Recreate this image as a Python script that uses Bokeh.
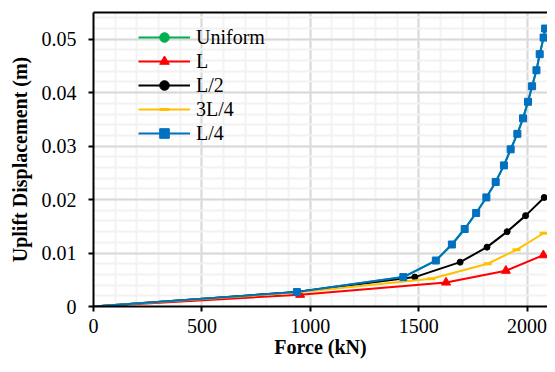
from bokeh.plotting import figure
from bokeh.models import Range1d, FixedTicker, CustomJSTickFormatter, LinearAxis, Legend, LegendItem
from bokeh.embed import file_html
from bokeh.resources import INLINE

# ---- data ----
force_uniform = [0, 938, 1429, 1579, 1653, 1712, 1765, 1812, 1855, 1893, 1924, 1955, 1981, 2004, 2023, 2043, 2058, 2076, 2083]
disp_uniform = [0, 0.0027, 0.0055, 0.0086, 0.0116, 0.0145, 0.0175, 0.0204, 0.0233, 0.0264, 0.0294, 0.0323, 0.0352, 0.0383, 0.0412, 0.0442, 0.0472, 0.0503, 0.0520]

force_L = [0, 953, 1626, 1902, 2075]
disp_L = [0, 0.0022, 0.0045, 0.0067, 0.0096]

force_L2 = [0, 938, 1482, 1691, 1815, 1908, 1993, 2079]
disp_L2 = [0, 0.0027, 0.0055, 0.0083, 0.0111, 0.0140, 0.0170, 0.0204]

force_3L4 = [0, 938, 1558, 1818, 1951, 2076]
disp_3L4 = [0, 0.0026, 0.0052, 0.0080, 0.0106, 0.0137]

force_L4 = [0, 938, 1429, 1579, 1653, 1712, 1765, 1812, 1855, 1893, 1924, 1955, 1981, 2004, 2023, 2043, 2058, 2076, 2083]
disp_L4 = [0, 0.0027, 0.0055, 0.0086, 0.0116, 0.0145, 0.0175, 0.0204, 0.0233, 0.0264, 0.0294, 0.0323, 0.0352, 0.0383, 0.0412, 0.0442, 0.0472, 0.0503, 0.0520]

x_ticks = [0, 500, 1000, 1500, 2000]
x_minor = [v for v in range(0, 2100, 100)]
y_ticks = [0, 0.01, 0.02, 0.03, 0.04, 0.05]
y_minor = [0, 0.002, 0.004, 0.006, 0.008, 0.01, 0.012, 0.014, 0.016, 0.018, 0.02, 0.022, 0.024, 0.026, 0.028,
           0.03, 0.032, 0.034, 0.036, 0.038, 0.04, 0.042, 0.044, 0.046, 0.048, 0.05, 0.052, 0.054]

FONT = "Liberation Serif"

p = figure(width=547, height=364, output_backend="svg", toolbar_location=None,
           x_range=Range1d(0, 2094), y_range=Range1d(0, 0.055),
           min_border_left=93, min_border_right=0, min_border_top=12, min_border_bottom=58)
p.outline_line_color = None
p.background_fill_color = "white"

xt = FixedTicker(ticks=x_ticks, minor_ticks=x_minor)
yt = FixedTicker(ticks=y_ticks, minor_ticks=y_minor)
p.xaxis.ticker = xt
p.yaxis.ticker = yt
p.yaxis.formatter = CustomJSTickFormatter(code="return tick == 0 ? '0' : tick.toFixed(2);")

for ax in (p.xaxis[0], p.yaxis[0]):
    ax.axis_line_width = 2
    ax.axis_line_color = "black"
    ax.major_tick_in = 0
    ax.major_tick_out = 5
    ax.major_tick_line_width = 2
    ax.major_tick_line_color = "black"
    ax.minor_tick_line_color = None
    ax.major_label_text_font = FONT
    ax.major_label_text_font_size = "20px"
    ax.major_label_text_color = "black"
    ax.axis_label_text_font = FONT
    ax.axis_label_text_font_size = "20px"
    ax.axis_label_text_font_style = "bold"
    ax.axis_label_text_color = "black"

p.xaxis.axis_label = "Force (kN)"
p.yaxis.axis_label = "Uplift Displacement (m)"
p.xaxis.major_label_standoff = 7
p.yaxis.major_label_standoff = 12
p.xaxis.axis_label_standoff = 0
p.yaxis.axis_label_standoff = 8

top = LinearAxis(ticker=FixedTicker(ticks=[]), axis_line_width=2, axis_line_color="black",
                 major_tick_line_color=None, minor_tick_line_color=None,
                 major_label_text_font_size="0px", major_label_standoff=0)
p.add_layout(top, "above")

for g in (p.xgrid[0], p.ygrid[0]):
    g.grid_line_color = "#d9d9d9"
    g.grid_line_width = 2
    g.minor_grid_line_color = "#f2f2f2"
    g.minor_grid_line_width = 2
p.xgrid.ticker = xt
p.ygrid.ticker = yt

LW = 2
series = [
    ("Uniform", force_uniform, disp_uniform, "#00b050", "circle", 6),
    ("L", force_L, disp_L, "#ff0000", "triangle", 9),
    ("L/2", force_L2, disp_L2, "#000000", "circle", 6),
    ("3L/4", force_3L4, disp_3L4, "#ffc000", "dash", 8),
    ("L/4", force_L4, disp_L4, "#0070c0", "square", 7),
]
items = []
for label, xs, ys, color, marker, size in series:
    ln = p.line(xs, ys, line_color=color, line_width=LW)
    if marker == "dash":
        sc = p.scatter(xs[1:], ys[1:], marker="dash", size=size, line_color=color, line_width=3)
    else:
        sc = p.scatter(xs[1:], ys[1:], marker=marker, size=size, fill_color=color, line_color=color)
    items.append(LegendItem(label=label, renderers=[ln, sc]))

legend = Legend(items=items, location=(45, 161), border_line_color=None, background_fill_alpha=0,
                padding=0, spacing=0, margin=0, label_height=24, glyph_height=24, glyph_width=52,
                label_standoff=6, label_text_font=FONT, label_text_font_size="20px", label_text_color="black")
p.add_layout(legend)

open("out.html", "w").write(file_html(p, INLINE))
